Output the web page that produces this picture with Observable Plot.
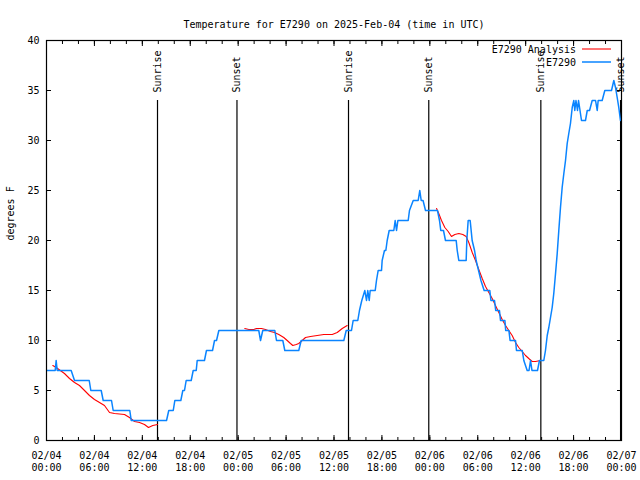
<!DOCTYPE html>
<html><head><meta charset="utf-8">
<script src="https://cdn.jsdelivr.net/npm/d3@7"></script>
<script src="https://cdn.jsdelivr.net/npm/@observablehq/plot@0.6"></script>
<style>body{margin:0;background:#fff} svg{display:block}</style>
</head><body><div id="chart"></div>
<script>
const titleText = "Temperature for E7290 on 2025-Feb-04 (time in UTC)";
const yLabel = "degrees F";
const startTime = "2025-02-04T00:00Z";
const endHours = 72;
const yTicks = [0, 5, 10, 15, 20, 25, 30, 35, 40];
const seriesNames = ["E7290 Analysis", "E7290"];
const seriesColors = ["#ff0000", "#0a84ff"];

// Observations (hours since 02/04 00:00 UTC, degrees F)
const obsHours = [0.1,1.09,1.21,1.34,3.09,3.51,5.35,5.55,6.85,7.10,8.14,8.35,10.43,10.61,15.03,15.31,15.87,16.07,16.82,17.07,17.28,17.49,18.12,18.37,18.75,18.87,19.78,20.03,20.79,21.04,21.29,21.58,26.58,26.80,27.08,28.59,28.80,29.59,29.84,31.59,31.89,37.23,37.53,38.19,38.40,38.98,39.19,39.48,39.86,40.07,40.23,40.41,40.53,41.16,41.32,41.53,41.95,42.03,42.32,42.49,42.66,42.91,43.49,43.66,43.83,44.00,45.29,45.45,45.92,46.54,46.74,46.92,47.15,47.46,48.96,49.21,49.37,49.71,49.96,51.30,51.43,51.63,52.55,52.63,52.80,53.05,53.30,53.60,53.80,54.10,54.40,54.80,55.51,55.65,56.10,56.25,56.72,56.85,57.40,57.50,57.90,58.05,58.73,58.85,59.57,59.77,60.19,60.42,60.61,60.79,61.48,61.73,62.27,62.48,62.70,62.90,63.11,63.32,63.52,63.74,63.95,64.15,64.36,64.57,64.78,64.99,65.20,65.40,65.61,65.83,66.03,66.15,66.30,66.49,66.62,66.99,67.49,67.71,68.00,68.33,68.75,68.96,69.08,69.58,69.91,70.75,71.04,71.25,71.46,71.66,71.87];
const obsTemps = [7,7,8,7,7,6,6,5,5,4,4,3,3,2,2,3,3,4,4,5,5,6,6,7,7,8,8,9,9,10,10,11,11,10,11,11,10,10,9,9,10,10,11,11,12,12,13,14,15,14,15,14,15,15,16,17,17,18,19,19,20,21,21,22,21,22,22,23,24,24,25,24,24,23,23,22,21,21,20,20,19,18,18,20,22,22,20,19,18,17,16,15,15,14,14,13,13,12,12,11,11,10,10,9,9,8,7,7,8,7,7,8,8,9,10.5,11.3,12.3,13.3,14.7,16.7,18.7,21,23.3,25.3,26.7,28,29.7,30.7,31.7,33.3,34,33,34,33,34,32,32,33,33,34,34,33,34,34,35,35,36,35.3,34.3,33.3,32];

// Analysis, three separate periods
const anaHours1 = [0.79,1.21,2.25,2.88,3.51,4.13,4.76,5.38,6.01,6.64,7.26,7.89,8.51,9.77,10.39,11.02,11.65,12.27,12.77,13.31,13.90];
const anaTemps1 = [7.5,7.3,6.7,6.2,5.8,5.5,5.0,4.5,4.1,3.8,3.5,2.8,2.7,2.6,2.3,1.9,1.8,1.6,1.3,1.5,1.6];
const anaHours2 = [24.83,25.33,25.96,26.30,26.92,27.42,28.05,28.55,29.09,29.71,30.14,30.55,30.84,31.27,31.59,32.02,32.43,33.06,33.90,34.72,35.78,36.40,37.03,37.65];
const anaTemps2 = [11.2,11.1,11.1,11.2,11.2,11.1,10.9,10.8,10.6,10.3,10.0,9.7,9.5,9.6,9.7,10.0,10.3,10.4,10.5,10.6,10.6,10.8,11.2,11.5];
const anaHours3 = [48.84,49.12,49.46,49.88,50.30,50.71,51.13,51.63,52.13,52.55,52.88,53.31,53.72,54.13,54.56,54.97,55.39,55.81,56.22,56.64,57.06,57.48,57.89,58.31,58.73,59.14,59.57,59.98,60.39,60.82,61.23,61.86];
const anaTemps3 = [23.2,22.7,22.0,21.3,20.9,20.4,20.6,20.7,20.6,20.4,19.8,18.8,18.0,17.1,16.2,15.4,14.8,14.2,13.5,12.8,12.1,11.5,11.0,10.5,9.8,9.3,8.9,8.5,8.2,7.9,7.9,8.0];

const sunTimes = ["2025-02-04T13:54Z","2025-02-04T23:51Z","2025-02-05T13:49Z","2025-02-05T23:52Z","2025-02-06T13:54Z","2025-02-06T23:53Z"];
const sunLabels = ["Sunrise","Sunset","Sunrise","Sunset","Sunrise","Sunset"];

const base = new Date(startTime);
const toDate = h => new Date(base.getTime() + h * 3600e3);
const obs = obsHours.map((h, i) => ({t: toDate(h), v: obsTemps[i]}));
const ana = [[anaHours1, anaTemps1], [anaHours2, anaTemps2], [anaHours3, anaTemps3]]
  .flatMap(([hs, vs], k) => hs.map((h, i) => ({t: toDate(h), v: vs[i], seg: k})));
const suns = sunTimes.map((s, i) => ({t: new Date(s), label: sunLabels[i]}));

const xDomain = [toDate(0), toDate(endHours)];
const majorTicks = d3.utcHours(xDomain[0], toDate(endHours + 0.01), 6);
const minorTicks = d3.utcHours(xDomain[0], toDate(endHours + 0.01), 2);
const fmt = d3.utcFormat("%m/%d\n%H:%M");
const blank = () => "";

const chart = Plot.plot({
  width: 640, height: 480,
  marginLeft: 46, marginRight: 19, marginTop: 40, marginBottom: 40,
  style: {fontFamily: "'DejaVu Sans Mono', monospace", fontSize: "10px", background: "#fff", color: "#000"},
  x: {type: "utc", domain: xDomain, label: null},
  y: {domain: [0, 40], label: null},
  marks: [
    Plot.ruleX(suns, {x: "t", y1: 0, y2: 34, stroke: "#000", strokeWidth: 1.2}),
    Plot.text(suns, {x: "t", y: 34.8, text: "label", rotate: -90, textAnchor: "start", fill: "#000"}),
    Plot.line(ana, {x: "t", y: "v", z: "seg", stroke: seriesColors[0], strokeWidth: 1.1}),
    Plot.line(obs, {x: "t", y: "v", stroke: seriesColors[1], strokeWidth: 1.5}),
    Plot.frame({stroke: "#000", strokeWidth: 1.2}),
    Plot.axisX(majorTicks, {anchor: "bottom", tickSize: -5, tickFormat: blank, label: null, stroke: "#000"}),
    Plot.axisX(minorTicks, {anchor: "bottom", tickSize: -3, tickFormat: blank, label: null, stroke: "#000"}),
    Plot.axisX(majorTicks, {anchor: "top", tickSize: -5, tickFormat: blank, label: null, stroke: "#000"}),
    Plot.axisX(minorTicks, {anchor: "top", tickSize: -3, tickFormat: blank, label: null, stroke: "#000"}),
    Plot.axisX(majorTicks, {anchor: "bottom", tickSize: 0, tickPadding: 10, tickFormat: fmt, lineHeight: 1.2, label: null, fill: "#000"}),
    Plot.axisY(yTicks, {anchor: "left", tickSize: -5, tickFormat: blank, label: null, stroke: "#000"}),
    Plot.axisY(yTicks, {anchor: "right", tickSize: -5, tickFormat: blank, label: null, stroke: "#000"}),
    Plot.axisY(yTicks, {anchor: "left", tickSize: 0, tickPadding: 7, label: null, fill: "#000"}),
    Plot.text([titleText], {frameAnchor: "top", dy: -20, text: d => d, fill: "#000"}),
    Plot.text([yLabel], {frameAnchor: "left", dx: -36, rotate: -90, text: d => d, fill: "#000"})
  ]
});

// legend (inside top-right)
const svg = d3.select(chart);
const legend = svg.append("g").attr("font-family", "'DejaVu Sans Mono', monospace").attr("font-size", 10);
seriesNames.forEach((name, i) => {
  const yy = 50 + i * 13;
  legend.append("text").attr("x", 576).attr("y", yy).attr("dy", "0.32em").attr("text-anchor", "end").attr("fill", "#000").text(name);
  legend.append("line").attr("x1", 582).attr("x2", 611).attr("y1", yy - 1).attr("y2", yy - 1)
    .attr("stroke", seriesColors[i]).attr("stroke-width", i === 0 ? 1.1 : 1.5);
});
document.getElementById("chart").append(chart);
</script>
</body></html>
